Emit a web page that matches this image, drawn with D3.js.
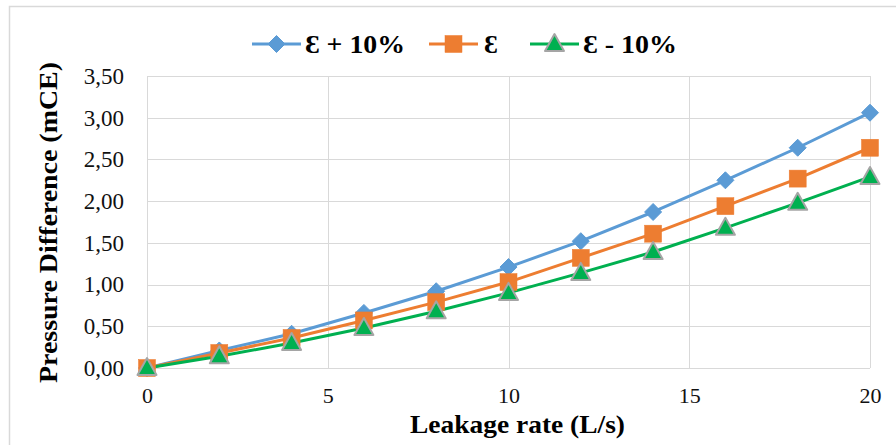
<!DOCTYPE html>
<html><head><meta charset="utf-8">
<script src="https://cdn.jsdelivr.net/npm/d3@7"></script>
<style>html,body{margin:0;padding:0;background:#fff;}svg{display:block;}
svg text{font-family:"Liberation Serif","Times New Roman",Times,"DejaVu Serif",serif !important;}
</style>
</head><body>
<script>
const leakage = [0, 2, 4, 6, 8, 10, 12, 14, 16, 18, 20];
const epsPlus10 = [0, 0.21, 0.41, 0.66, 0.92, 1.21, 1.52, 1.87, 2.25, 2.64, 3.06];
const eps = [0, 0.18, 0.36, 0.57, 0.79, 1.03, 1.32, 1.61, 1.94, 2.27, 2.64];
const epsMinus10 = [0, 0.14, 0.30, 0.48, 0.68, 0.90, 1.14, 1.39, 1.68, 1.98, 2.29];
const seriesNames = ["Ɛ + 10%", "Ɛ", "Ɛ - 10%"];
const xTicks = [0, 5, 10, 15, 20];
const yTicks = [0, 0.5, 1, 1.5, 2, 2.5, 3, 3.5];

const W = 896, H = 445;
const svg = d3.select("body").append("svg").attr("width", W).attr("height", H);
svg.append("rect").attr("x", 9.5).attr("y", 6.5).attr("width", 900).attr("height", 460)
  .attr("fill", "#fff").attr("stroke", "#d9d9d9").attr("stroke-width", 1.5);

const x = d3.scaleLinear().domain([0, 20]).range([147, 870]);
const y = d3.scaleLinear().domain([0, 3.5]).range([368, 76]);
const fmt = v => d3.format(".2f")(v).replace(".", ",");

svg.append("g").selectAll("line").data(yTicks).join("line")
  .attr("x1", x(0)).attr("x2", x(20)).attr("y1", d => Math.round(y(d)) + 0.5).attr("y2", d => Math.round(y(d)) + 0.5)
  .attr("stroke", "#d9d9d9").attr("stroke-width", 1);
svg.append("g").selectAll("line").data(xTicks).join("line")
  .attr("y1", y(0)).attr("y2", y(3.5)).attr("x1", d => Math.round(x(d)) + 0.5).attr("x2", d => Math.round(x(d)) + 0.5)
  .attr("stroke", "#d9d9d9").attr("stroke-width", 1);

const yAxis = svg.append("g").attr("transform", `translate(${x(0)},0)`)
  .call(d3.axisLeft(y).tickValues(yTicks).tickFormat(fmt).tickSize(0).tickPadding(23));
yAxis.select(".domain").remove();
yAxis.attr("font-family", null).attr("font-size", null);
yAxis.selectAll("text").attr("font-size", 23).attr("fill", "#111");

const xAxis = svg.append("g").attr("transform", `translate(0,${y(0)})`)
  .call(d3.axisBottom(x).tickValues(xTicks).tickFormat(d3.format("d")).tickSize(0).tickPadding(19));
xAxis.select(".domain").remove();
xAxis.attr("font-family", null).attr("font-size", null);
xAxis.selectAll("text").attr("font-size", 22).attr("fill", "#111");

svg.append("text").attr("x", 410).attr("y", 433)
  .attr("font-weight", "bold").attr("font-size", 26)
  .attr("textLength", 215).attr("lengthAdjust", "spacingAndGlyphs")
  .text("Leakage rate (L/s)");
svg.append("text").attr("transform", "translate(57,383) rotate(-90)")
  .attr("font-weight", "bold").attr("font-size", 26)
  .attr("textLength", 321).attr("lengthAdjust", "spacingAndGlyphs")
  .text("Pressure Difference (mCE)");

const colors = ["#5b9bd5", "#ed7d31", "#00b050"];
const data = [epsPlus10, eps, epsMinus10];
const line = d3.line().x((d, i) => x(leakage[i])).y(d => y(d));

function marker(g, k, cx, cy) {
  if (k === 0) {
    g.append("path").attr("d", `M${cx},${cy - 8.5}L${cx + 8.5},${cy}L${cx},${cy + 8.5}L${cx - 8.5},${cy}Z`)
      .attr("fill", colors[0]).attr("stroke", colors[0]).attr("stroke-width", 1);
  } else if (k === 1) {
    g.append("rect").attr("x", cx - 8.5).attr("y", cy - 8.5).attr("width", 17).attr("height", 17)
      .attr("fill", colors[1]).attr("stroke", colors[1]).attr("stroke-width", 0.5);
  } else {
    g.append("path").attr("d", `M${cx},${cy - 10}L${cx + 9.5},${cy + 7}L${cx - 9.5},${cy + 7}Z`)
      .attr("fill", colors[2]).attr("stroke", "#a5a5a5").attr("stroke-width", 2).attr("stroke-linejoin", "round");
  }
}

data.forEach((vals, k) => {
  svg.append("path").datum(vals).attr("d", line).attr("fill", "none")
    .attr("stroke", colors[k]).attr("stroke-width", 3).attr("stroke-linejoin", "round");
});
data.forEach((vals, k) => {
  const g = svg.append("g");
  vals.forEach((v, i) => marker(g, k, x(leakage[i]), y(v)));
});

const legendItems = [
  { x0: 252, tx: 305, len: 100 },
  { x0: 429, tx: 484, len: 14 },
  { x0: 530, tx: 583, len: 94 }
];
legendItems.forEach((it, k) => {
  const g = svg.append("g");
  g.append("line").attr("x1", it.x0).attr("x2", it.x0 + 49).attr("y1", 44).attr("y2", 44)
    .attr("stroke", colors[k]).attr("stroke-width", 3);
  marker(g, k, it.x0 + 24.5, 44);
  const t = g.append("text").attr("x", it.tx).attr("y", 53)
    .attr("font-weight", "bold").attr("font-size", 26)
    .text(seriesNames[k]);
  const natural = t.node().getComputedTextLength();
  if (Math.abs(natural - it.len) > 3) {
    t.attr("textLength", it.len).attr("lengthAdjust", "spacingAndGlyphs");
  }
});
</script>
</body></html>
